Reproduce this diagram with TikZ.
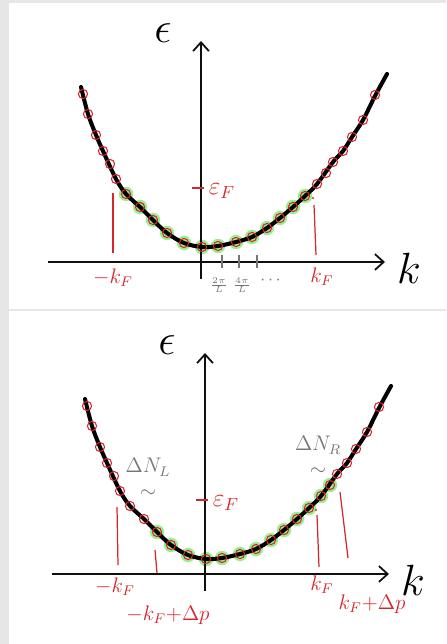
\documentclass[tikz,border=0pt]{standalone}
\usepackage{amsmath}
\usetikzlibrary{arrows.meta}
\definecolor{ink}{RGB}{15,15,15}
\definecolor{pen}{RGB}{214,38,44}
\definecolor{sea}{RGB}{125,235,115}
\definecolor{pencil}{RGB}{118,118,118}
\definecolor{frame}{RGB}{230,230,230}

% states on the dispersion curve (pixel grid of the upper panel)
\def\states{83/94,88/114,96/135,103/151,110/164,116/179,126/194,140/207,153/220,167/233,184/243,202/247,218/246,236/242,252/237,267/228,280/218,293/207,305/196,317/184,326/173,333/162,343/151,352/137,363/120,375/95}

% #1,#2 first and last filled state, #3 suffix for node names
\newcommand{\dispersion}[3]{%
\foreach \x/\y [count=\i] in \states {\ifnum\i<#1\else\ifnum\i>#2\else\fill[sea,opacity=.8] (\x,\y) circle (4.1pt);\fi\fi}
\draw[axis] (48,262) -- (385,262); \draw[axis] (201,279) -- (201,41);
\draw[band] plot[smooth,tension=.55] coordinates {(81,87) (88,114) (96,135) (103,151) (116,179) (126,194) (140,207) (153,220) (167,233) (184,243) (202,247) (218,246) (236,242) (252,237) (267,228) (280,218) (293,207) (305,196) (317,184) (333,162) (343,151) (352,137) (363,120) (375,96) (387,74)};
\foreach \x/\y in \states {\draw[state] (\x,\y) circle (2.6pt);}
\draw[pen,line width=.8pt] (192,188) -- (204,188); \node[pen,font=\Large] (eF#3) at (222,191) {$\varepsilon_F$};
\node[inner sep=0pt] (eps#3) at (163,33) {\Huge$\epsilon$};
\node[inner sep=0pt] (k#3) at (409,268) {\Huge$k$};
}

\begin{document}
\begin{tikzpicture}[x=0.02cm,y=-0.02cm,
  axis/.style={ink,line width=1pt,-{Straight Barb[length=5pt,width=9pt]}},
  band/.style={black,line width=2.3pt,line cap=round},
  state/.style={pen,line width=.6pt},
  kline/.style={pen,line width=.7pt},
  klabel/.style={pen,font=\large,inner sep=1pt},
  grey/.style={pencil,font=\large,inner sep=0pt,align=center}]
\fill[frame] (0,0) rectangle (446,644);
\fill[white] (9,3) rectangle (446,309.5); \fill[white] (9,311) rectangle (446,644);

% equilibrium
\dispersion{7}{19}{a}
\draw[kline] (113,193) -- (113,253); \fill[pen] (313,198) circle (.6pt); \draw[kline] (314,205) -- (316,255);
\node[klabel] (mkFa) at (113,278) {$-k_F$};
\node[klabel] (kFa) at (322,277) {$k_F$};
\foreach \x in {222,239,257} \draw[pencil,line width=.8pt] (\x,255) -- (\x,268);
\node[pencil,font=\scriptsize] (q1) at (219,285) {$\frac{2\pi}{L}$};
\node[pencil,font=\scriptsize] (q2) at (242,285) {$\frac{4\pi}{L}$};
\node[pencil] (q3) at (272,281) {$\cdots$};

% shifted Fermi sea
\begin{scope}[shift={(4,312)}]
\dispersion{9}{21}{b}
\end{scope}
\draw[kline] (117,507) -- (118,565); \draw[kline] (155,550) -- (157,573);
\fill[pen] (316,510) circle (.6pt); \draw[kline] (317,515) -- (319,567); \draw[kline] (340,492) -- (348,558);
\node[klabel] (mkFb) at (115,587) {$-k_F$};
\node[klabel] (mkFdp) at (168,615) {$-k_F{+}\Delta p$};
\node[klabel] (kFb) at (322,585) {$k_F$};
\node[klabel] (kFdp) at (372,604) {$k_F{+}\Delta p$};
\node[grey] (dNL) at (148,478) {$\Delta N_L$\\$\sim$};
\node[grey] (dNR) at (318,456) {$\Delta N_R$\\$\sim$};
\end{tikzpicture}
\end{document}
